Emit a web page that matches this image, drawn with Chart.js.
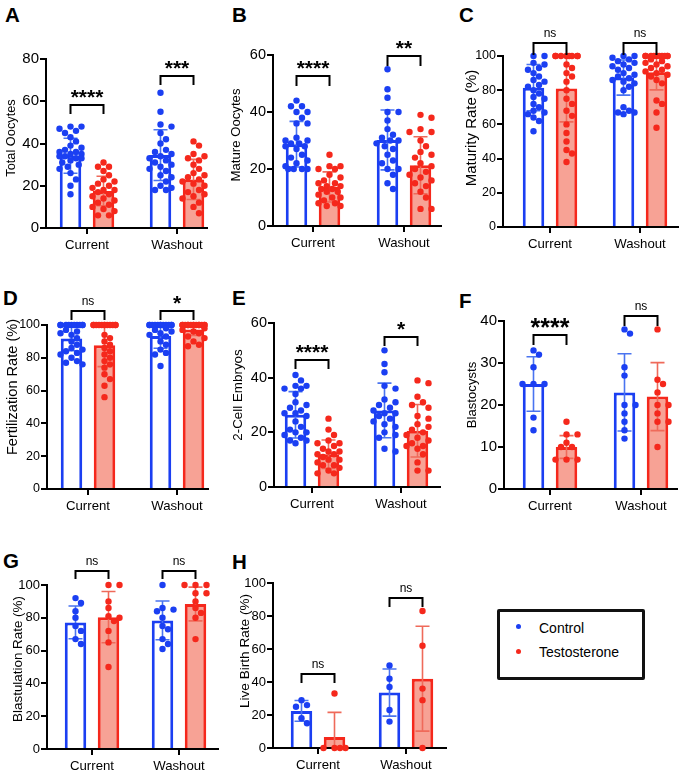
<!DOCTYPE html>
<html><head><meta charset="utf-8">
<script src="https://cdn.jsdelivr.net/npm/chart.js@4.4.1/dist/chart.umd.min.js"></script>
<style>
html,body{margin:0;padding:0;background:#fff;}
body{width:685px;height:774px;position:relative;overflow:hidden;font-family:"Liberation Sans",Arial,Helvetica,sans-serif;}
canvas{position:absolute;}
.letter{position:absolute;font-weight:bold;font-size:20.5px;line-height:20px;color:#000;}
#legend{position:absolute;left:497px;top:609px;width:142px;height:65px;border:3px solid #111;border-radius:2px;}
#legend .dot{position:absolute;width:5px;height:5px;border-radius:50%;}
#legend .lab{position:absolute;font-size:14px;line-height:14px;color:#000;white-space:nowrap;}
</style></head><body>
<div class="letter" style="left:5px;top:5px">A</div>
<div class="letter" style="left:232px;top:5px">B</div>
<div class="letter" style="left:459px;top:5px">C</div>
<div class="letter" style="left:3px;top:288px">D</div>
<div class="letter" style="left:232px;top:288px">E</div>
<div class="letter" style="left:459px;top:291px">F</div>
<div class="letter" style="left:3px;top:551px">G</div>
<div class="letter" style="left:232px;top:552px">H</div>
<div id="legend">
  <div class="dot" style="left:16px;top:12px;background:#1b3ff2"></div>
  <div class="lab" style="left:39px;top:9px">Control</div>
  <div class="dot" style="left:16px;top:37px;background:#f5281c"></div>
  <div class="lab" style="left:39px;top:33px">Testosterone</div>
</div>
<script>
// ---------------- DATA ----------------
const categories = ['Current', 'Washout'];
const seriesLabels = ['Control', 'Testosterone'];

// A: Total Oocytes
const totalOocytesTicks = [0, 20, 40, 60, 80];
const totalOocytesControlMean = [34.2, 34.5];
const totalOocytesControlSD = [8.3, 12];
const totalOocytesTestoMean = [17.5, 23];
const totalOocytesTestoSD = [7, 9.5];
const totalOocytesControlCurrent = [48,48,47,46,45,43,41,39,38,37,36,36,35,35,34,34,33,33,32,31,30,29,28,26,23,20,16];
const totalOocytesTestoCurrent = [31,29,29,27,25,23,22,21,20,19,18,18,17,16,15,14,13,12,11,10,9,8,6,6];
const totalOocytesControlWashout = [64,55,49,48,45,42,40,37,36,35,34,33,32,31,30,29,28,27,25,24,22,20,19,18,18];
const totalOocytesTestoWashout = [41,39,35,34,33,32,30,28,26,25,24,23,22,21,20,18,17,16,15,14,12,10,7];
const totalOocytesSig = ['****', '***'];
const totalOocytesSigLevel = [58, 72];

// B: Mature Oocytes
const matureOocytesTicks = [0, 20, 40, 60];
const matureOocytesControlMean = [28.7, 30.2];
const matureOocytesControlSD = [8, 10.5];
const matureOocytesTestoMean = [13.7, 21.3];
const matureOocytesTestoSD = [5.3, 10];
const matureOocytesControlCurrent = [44,42,42,40,40,38,36,36,31,30,30,29,29,28,28,27,25,24,23,22,21,20,20,20,20];
const matureOocytesTestoCurrent = [25,21,21,20,20,18,17,16,15,15,14,14,13,13,12,12,11,10,10,9,8,8,7,7];
const matureOocytesControlWashout = [55,48,45,40,40,37,34,32,31,30,30,29,28,27,25,23,22,20,20,18,15,13];
const matureOocytesTestoWashout = [39,38,34,33,33,30,28,26,25,24,22,21,20,19,18,17,16,15,14,12,10,6,6];
const matureOocytesSig = ['****', '**'];
const matureOocytesSigLevel = [52.5, 59.5];

// C: Maturity Rate (%)
const maturityTicks = [0, 20, 40, 60, 80, 100];
const maturityControlMean = [81.5, 87.4];
const maturityControlSD = [13.5, 10.3];
const maturityTestoMean = [81, 90.5];
const maturityTestoSD = [19.5, 10.3];
const maturityControlCurrent = [100,100,96,95,93,92,90,88,86,85,83,82,80,78,76,75,72,70,68,67,66,64,62,56];
const maturityTestoCurrent = [100,100,100,100,100,100,100,100,95,93,90,88,85,80,75,72,68,65,60,55,50,45,43,38];
const maturityControlWashout = [100,100,99,98,97,96,95,94,93,92,90,89,88,87,86,85,84,82,80,70,68,67,67,66];
const maturityTestoWashout = [100,100,100,100,100,100,100,100,100,100,98,97,96,95,94,93,92,91,90,89,88,86,84,74,72,67,58];
const maturitySig = ['ns', 'ns'];
const maturitySigLevel = [107.5, 107.5];

// D: Fertilization Rate (%)
const fertilizationTicks = [0, 20, 40, 60, 80, 100];
const fertilizationControlMean = [91.8, 93.3];
const fertilizationControlSD = [7.5, 7.5];
const fertilizationTestoMean = [87.6, 97.2];
const fertilizationTestoSD = [13, 3.5];
const fertilizationControlCurrent = [100,100,100,100,100,100,100,100,100,100,97,96,95,94,92,90,88,86,85,84,83,82,80,78,77,76];
const fertilizationTestoCurrent = [100,100,100,100,100,100,100,100,100,100,100,100,94,92,90,88,86,84,82,80,78,76,74,70,67,63,56];
const fertilizationControlWashout = [100,100,100,100,100,100,100,100,100,100,100,100,98,97,96,95,94,93,90,88,85,83,82,75];
const fertilizationTestoWashout = [100,100,100,100,100,100,100,100,100,100,100,100,100,100,98,97,96,95,93,92,90,88,87];
const fertilizationSig = ['ns', '*'];
const fertilizationSigLevel = [108.5, 108.5];

// E: 2-Cell Embryos
const twoCellTicks = [0, 20, 40, 60];
const twoCellControlMean = [26.4, 28];
const twoCellControlSD = [8.5, 10];
const twoCellTestoMean = [12, 20.6];
const twoCellTestoSD = [5.2, 9.6];
const twoCellControlCurrent = [41,39,37,37,36,36,34,31,30,29,28,27,27,26,24,22,21,20,20,19,18,17,17,16];
const twoCellTestoCurrent = [25,21,19,17,16,16,15,14,13,13,12,12,11,10,10,9,8,8,7,6,5,5];
const twoCellControlWashout = [50,45,42,37,36,32,31,30,29,28,27,27,26,25,24,23,22,20,19,18,14,13];
const twoCellTestoWashout = [39,38,33,31,30,29,26,25,23,22,21,20,19,18,17,16,15,15,14,12,9,6,6];
const twoCellSig = ['****', '*'];
const twoCellSigLevel = [46.5, 55];

// F: Blastocysts
const blastocystTicks = [0, 10, 20, 30, 40];
const blastocystControlMean = [25, 23];
const blastocystControlSD = [6.5, 9.2];
const blastocystTestoMean = [10, 22];
const blastocystTestoSD = [2.7, 8.1];
const blastocystControlCurrent = [33,32,29,25,25,25,17,14];
const blastocystTestoCurrent = [16,13,13,11,10,10,7,7,7];
const blastocystControlWashout = [38,37,29,27,20,20,18,16,14,12];
const blastocystTestoWashout = [38,26,25,23,20,20,18,16,16,10];
const blastocystSig = ['****', 'ns'];
const blastocystSigLevel = [36.7, 41.3];

// G: Blastulation Rate (%)
const blastulationTicks = [0, 20, 40, 60, 80, 100];
const blastulationControlMean = [77.2, 78.4];
const blastulationControlSD = [10, 11.8];
const blastulationTestoMean = [80.4, 88.4];
const blastulationTestoSD = [15.6, 10.3];
const blastulationControlCurrent = [92,89,84,80,75,72,67,64];
const blastulationTestoCurrent = [100,100,90,86,81,80,78,72,65,50];
const blastulationControlWashout = [100,86,85,84,80,75,73,67,64,61];
const blastulationTestoWashout = [100,100,100,95,95,90,86,83,80,67];
const blastulationSig = ['ns', 'ns'];
const blastulationSigLevel = [108.5, 108.5];

// H: Live Birth Rate (%)
const liveBirthTicks = [0, 20, 40, 60, 80, 100];
const liveBirthControlMean = [22.5, 33.6];
const liveBirthControlSD = [6.3, 14.3];
const liveBirthTestoMean = [6.6, 42];
const liveBirthTestoSD = [15, 31.8];
const liveBirthControlCurrent = [29,26,25,18,15];
const liveBirthTestoCurrent = [33,0,0,0,0];
const liveBirthControlWashout = [50,42,37,23,16];
const liveBirthTestoWashout = [83,62,36,29,0];
const liveBirthSig = ['ns', 'ns'];
const liveBirthSigLevel = [44.7, 91];

// ---------------- STYLE / LAYOUT ----------------
const FONT = '"Liberation Sans", Arial, Helvetica, sans-serif';
const BLUE = '#1b3ff2', RED = '#f5281c', PINK = '#f7a295';
const ERR_BLUE = '#4a74f0', ERR_RED = '#ef6a5a';

const panels = [
  {title:'Total Oocytes', ticks:totalOocytesTicks, cm:totalOocytesControlMean, cs:totalOocytesControlSD, tm:totalOocytesTestoMean, ts:totalOocytesTestoSD,
   cp:[totalOocytesControlCurrent,totalOocytesControlWashout], tp:[totalOocytesTestoCurrent,totalOocytesTestoWashout], sig:totalOocytesSig, sigLevel:totalOocytesSigLevel,
   box:{L:46,T:59,R:207,B:228,c0:87,c1:177}, titleSize:12.8, titleD:35, titleY:138, tickSize:15, starSize:21, drop:9},
  {title:'Mature Oocytes', ticks:matureOocytesTicks, cm:matureOocytesControlMean, cs:matureOocytesControlSD, tm:matureOocytesTestoMean, ts:matureOocytesTestoSD,
   cp:[matureOocytesControlCurrent,matureOocytesControlWashout], tp:[matureOocytesTestoCurrent,matureOocytesTestoWashout], sig:matureOocytesSig, sigLevel:matureOocytesSigLevel,
   box:{L:273,T:55,R:441,B:226,c0:313,c1:404}, titleSize:13.2, titleD:37, titleY:135, tickSize:14.5, starSize:21, drop:10},
  {title:'Maturity Rate (%)', ticks:maturityTicks, cm:maturityControlMean, cs:maturityControlSD, tm:maturityTestoMean, ts:maturityTestoSD,
   cp:[maturityControlCurrent,maturityControlWashout], tp:[maturityTestoCurrent,maturityTestoWashout], sig:maturitySig, sigLevel:maturitySigLevel,
   box:{L:503,T:56,R:678,B:227,c0:550,c1:640}, titleSize:15, titleD:31.5, titleY:128, tickSize:12.5, starSize:21, drop:12},
  {title:'Fertilization Rate (%)', ticks:fertilizationTicks, cm:fertilizationControlMean, cs:fertilizationControlSD, tm:fertilizationTestoMean, ts:fertilizationTestoSD,
   cp:[fertilizationControlCurrent,fertilizationControlWashout], tp:[fertilizationTestoCurrent,fertilizationTestoWashout], sig:fertilizationSig, sigLevel:fertilizationSigLevel,
   box:{L:47,T:325,R:208,B:489,c0:88,c1:177}, titleSize:14.6, titleD:34.5, titleY:387, tickSize:12.5, starSize:21, drop:9},
  {title:'2-Cell Embryos', ticks:twoCellTicks, cm:twoCellControlMean, cs:twoCellControlSD, tm:twoCellTestoMean, ts:twoCellTestoSD,
   cp:[twoCellControlCurrent,twoCellControlWashout], tp:[twoCellTestoCurrent,twoCellTestoWashout], sig:twoCellSig, sigLevel:twoCellSigLevel,
   box:{L:274,T:323,R:440,B:487,c0:312,c1:401}, titleSize:13.4, titleD:36, titleY:395, tickSize:14.5, starSize:21, drop:9},
  {title:'Blastocysts', ticks:blastocystTicks, cm:blastocystControlMean, cs:blastocystControlSD, tm:blastocystTestoMean, ts:blastocystTestoSD,
   cp:[blastocystControlCurrent,blastocystControlWashout], tp:[blastocystTestoCurrent,blastocystTestoWashout], sig:blastocystSig, sigLevel:blastocystSigLevel,
   box:{L:504,T:321,R:677,B:489,c0:550,c1:641}, titleSize:13.2, titleD:32, titleY:395, tickSize:15, starSize:25, drop:10},
  {title:'Blastulation Rate (%)', ticks:blastulationTicks, cm:blastulationControlMean, cs:blastulationControlSD, tm:blastulationTestoMean, ts:blastulationTestoSD,
   cp:[blastulationControlCurrent,blastulationControlWashout], tp:[blastulationTestoCurrent,blastulationTestoWashout], sig:blastulationSig, sigLevel:blastulationSigLevel,
   box:{L:47,T:585,R:218,B:749,c0:92,c1:179}, titleSize:13.4, titleD:29, titleY:659, tickSize:13, starSize:21, drop:8},
  {title:'Live Birth Rate (%)', ticks:liveBirthTicks, cm:liveBirthControlMean, cs:liveBirthControlSD, tm:liveBirthTestoMean, ts:liveBirthTestoSD,
   cp:[liveBirthControlCurrent,liveBirthControlWashout], tp:[liveBirthTestoCurrent,liveBirthTestoWashout], sig:liveBirthSig, sigLevel:liveBirthSigLevel,
   box:{L:273,T:583,R:446,B:748,c0:318,c1:406}, titleSize:13.6, titleD:28, titleY:651, tickSize:13, starSize:21, drop:9}
];

const Y_AXIS_W = 46, PAD_TOP = 50, GROUP_OFF = 16.5, BAR_W = 21.5, DOT_R = 3.2, CAP = 7;

// deterministic beeswarm: horizontal pixel offset for each value
function swarm(values, pxPerY, r, half) {
  const order = values.map((_, i) => i).sort((a, b) => values[b] - values[a] || a - b);
  const step = half / 2;
  const cands = [0, step, -step, 2 * step, -2 * step, 1.5 * step, -1.5 * step, 0.5 * step, -0.5 * step];
  const placed = [], off = new Array(values.length);
  for (const i of order) {
    const y = values[i] * pxPerY;
    let best = 0, bestOv = Infinity;
    for (const c of cands) {
      let ov = 0;
      for (const p of placed) {
        const d = Math.hypot(p.x - c, p.y - y);
        if (d < 2 * r) ov += 2 * r - d;
      }
      if (ov < bestOv - 1e-9) { bestOv = ov; best = c; }
      if (ov === 0) break;
    }
    placed.push({x: best, y});
    off[i] = best;
  }
  return off;
}

const decor = {
  id: 'decor',
  afterDatasetDraw(chart, args) {
    const p = chart.canvas.$panel;
    if (!p || args.meta.type !== 'bar') return;
    const di = args.index;
    const means = di === 0 ? p.cm : p.tm, sds = di === 0 ? p.cs : p.ts;
    const ys = chart.scales.y, ctx = chart.ctx;
    ctx.save();
    ctx.strokeStyle = di === 0 ? ERR_BLUE : ERR_RED;
    ctx.lineWidth = 1.6;
    args.meta.data.forEach((el, i) => {
      const x = el.x;
      const yt = ys.getPixelForValue(means[i] + sds[i]);
      const lo = means[i] - sds[i];
      const yb = ys.getPixelForValue(Math.max(0, lo));
      ctx.beginPath();
      ctx.moveTo(x, yt); ctx.lineTo(x, yb);
      ctx.moveTo(x - CAP, yt); ctx.lineTo(x + CAP, yt);
      if (lo > 0) { ctx.moveTo(x - CAP, yb); ctx.lineTo(x + CAP, yb); }
      ctx.stroke();
    });
    ctx.restore();
  },
  afterDraw(chart) {
    const p = chart.canvas.$panel;
    if (!p) return;
    const ctx = chart.ctx, ys = chart.scales.y;
    const m0 = chart.getDatasetMeta(0), m1 = chart.getDatasetMeta(1);
    ctx.save();
    // y-axis title
    ctx.save();
    ctx.translate(Y_AXIS_W - p.titleD, p.titleY - (p.box.T - PAD_TOP));
    ctx.rotate(-Math.PI / 2);
    ctx.font = p.titleSize + 'px ' + FONT;
    ctx.fillStyle = '#000'; ctx.textAlign = 'center'; ctx.textBaseline = 'middle';
    ctx.fillText(p.title, 0, 0);
    ctx.restore();
    // significance brackets
    p.sig.forEach((s, i) => {
      const x0 = m0.data[i].x, x1 = m1.data[i].x;
      const y = Math.round(ys.getPixelForValue(p.sigLevel[i]));
      ctx.strokeStyle = '#000'; ctx.lineWidth = 2; ctx.lineJoin = 'miter';
      ctx.beginPath();
      ctx.moveTo(x0, y + p.drop); ctx.lineTo(x0, y); ctx.lineTo(x1, y); ctx.lineTo(x1, y + p.drop);
      ctx.stroke();
      ctx.fillStyle = '#000'; ctx.textAlign = 'center'; ctx.textBaseline = 'alphabetic';
      if (s === 'ns') { ctx.font = '12px ' + FONT; ctx.fillText(s, (x0 + x1) / 2, y - 6); }
      else { ctx.font = 'bold ' + p.starSize + 'px ' + FONT; ctx.fillText(s, (x0 + x1) / 2, y - 1 + (p.starSize - 21) * 0.45); }
    });
    ctx.restore();
  }
};

function makePanel(p) {
  const b = p.box;
  const padRight = 6;
  const Hx = b.B > 700 ? 25 : 30;
  const CL = b.L - Y_AXIS_W, CT = b.T - PAD_TOP;
  const CW = (b.R - b.L) + Y_AXIS_W + padRight;
  const CH = PAD_TOP + (b.B - b.T) + Hx;
  const cv = document.createElement('canvas');
  cv.width = CW; cv.height = CH;
  cv.style.left = CL + 'px'; cv.style.top = CT + 'px';
  cv.style.width = CW + 'px'; cv.style.height = CH + 'px';
  cv.$panel = p;
  document.body.appendChild(cv);

  const unit = b.c1 - b.c0;
  const xmin = -(b.c0 - b.L) / unit, xmax = 1 + (b.R - b.c1) / unit;
  const catPct = 4 * GROUP_OFF / unit;
  const barPct = BAR_W / (2 * GROUP_OFF);
  const yMax = p.ticks[p.ticks.length - 1];
  const pxPerY = (b.B - b.T) / yMax;

  function pts(groups, side) {
    const out = [];
    groups.forEach((vals, ci) => {
      const off = swarm(vals, pxPerY, DOT_R, 11);
      vals.forEach((v, k) => out.push({x: ci + side * GROUP_OFF / unit + off[k] / unit, y: v}));
    });
    return out;
  }

  new Chart(cv, {
    type: 'bar',
    data: {
      datasets: [
        {type: 'bar', label: seriesLabels[0], data: categories.map((c, i) => ({x: i, y: p.cm[i]})),
         backgroundColor: '#ffffff', borderColor: BLUE, borderWidth: 3, borderSkipped: 'start',
         barPercentage: barPct, categoryPercentage: catPct, order: 3},
        {type: 'bar', label: seriesLabels[1], data: categories.map((c, i) => ({x: i, y: p.tm[i]})),
         backgroundColor: PINK, borderColor: RED, borderWidth: 3, borderSkipped: 'start',
         barPercentage: barPct, categoryPercentage: catPct, order: 3},
        {type: 'scatter', label: seriesLabels[0] + ' points', data: pts(p.cp, -1),
         pointRadius: DOT_R, pointBackgroundColor: BLUE, pointBorderWidth: 0, clip: false, order: 1},
        {type: 'scatter', label: seriesLabels[1] + ' points', data: pts(p.tp, 1),
         pointRadius: DOT_R, pointBackgroundColor: RED, pointBorderWidth: 0, clip: false, order: 1}
      ]
    },
    options: {
      responsive: false, animation: false, events: [],
      devicePixelRatio: 1,
      layout: {padding: {left: 0, top: PAD_TOP, right: padRight, bottom: 0}},
      plugins: {legend: {display: false}, tooltip: {enabled: false}},
      scales: {
        x: {
          type: 'linear', min: xmin, max: xmax, bounds: 'data', offset: false,
          afterBuildTicks: s => { s.ticks = categories.map((c, i) => ({value: i})); },
          afterFit: s => { s.height = Hx; },
          ticks: {callback: (v, i) => categories[i], font: {family: FONT, size: 13.2}, color: '#000', padding: 3.5, maxRotation: 0, autoSkip: false},
          grid: {offset: false, drawOnChartArea: false, drawTicks: true, tickLength: 6, color: '#000', lineWidth: 2},
          border: {display: true, color: '#000', width: 2}
        },
        y: {
          type: 'linear', min: 0, max: yMax,
          afterBuildTicks: s => { s.ticks = p.ticks.map(v => ({value: v})); },
          afterFit: s => { s.width = Y_AXIS_W; },
          ticks: {font: {family: FONT, size: p.tickSize}, color: '#000', padding: 1},
          grid: {drawOnChartArea: false, drawTicks: true, tickLength: 6, color: '#000', lineWidth: 2},
          border: {display: true, color: '#000', width: 2},
          title: {display: false}
        }
      }
    },
    plugins: [decor]
  });
}

panels.forEach(makePanel);
</script>
</body></html>
